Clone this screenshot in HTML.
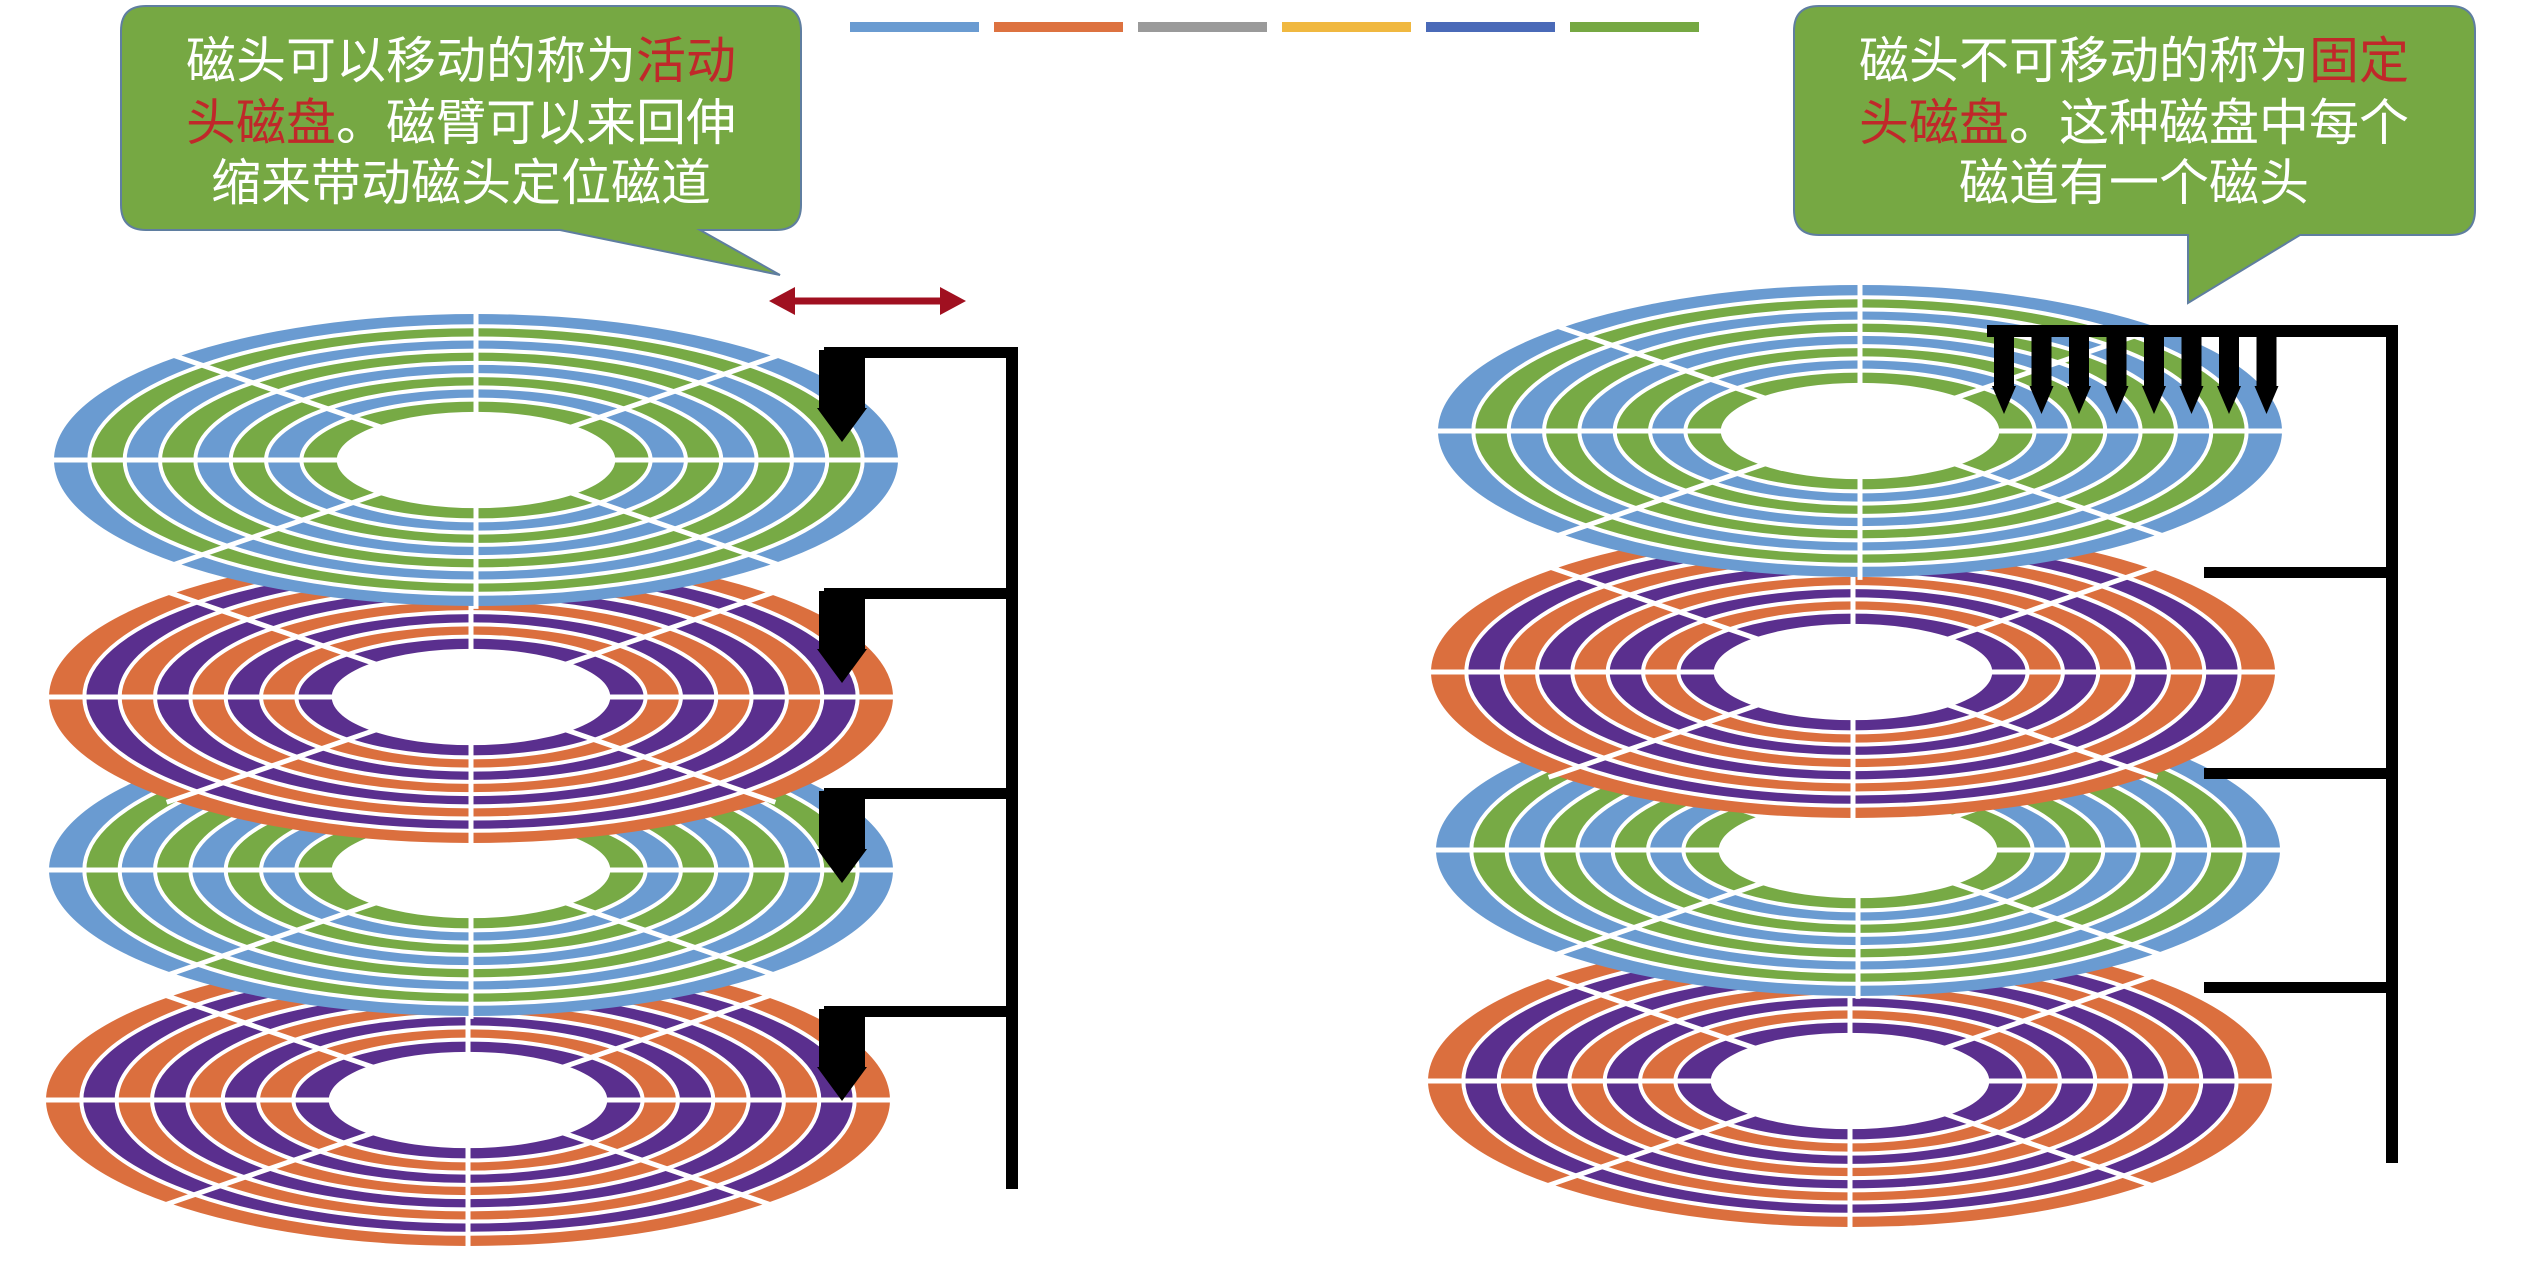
<!DOCTYPE html>
<html><head><meta charset="utf-8"><style>
html,body{margin:0;padding:0;background:#fff;}
svg{display:block;}
text{font-family:"Liberation Sans","Noto Sans CJK SC",sans-serif;}
</style></head><body>
<svg id="s" width="2523" height="1262" viewBox="0 0 2523 1262" xmlns="http://www.w3.org/2000/svg">
<g id="legend"></g>
<g id="disks"></g>
<g id="arms"></g>
<g>
<path d="M146,6 H776 Q801,6 801,31 V205 Q801,230 776,230 H700 L780,275 L560,230 H146 Q121,230 121,205 V31 Q121,6 146,6 Z" fill="#76a843" stroke="#5f7ea0" stroke-width="2"/>
<text x="461" y="78" font-size="50" fill="#fff" text-anchor="middle">磁头可以移动的称为<tspan fill="#c0282a">活动</tspan></text>
<text x="461" y="140" font-size="50" fill="#fff" text-anchor="middle"><tspan fill="#c0282a">头磁盘</tspan>。磁臂可以来回伸</text>
<text x="461" y="200" font-size="50" fill="#fff" text-anchor="middle">缩来带动磁头定位磁道</text>
</g>
<g>
<path d="M1819,6 H2450 Q2475,6 2475,31 V210 Q2475,235 2450,235 H2300 L2188,303 V235 H1819 Q1794,235 1794,210 V31 Q1794,6 1819,6 Z" fill="#76a843" stroke="#5f7ea0" stroke-width="2"/>
<text x="2134" y="78" font-size="50" fill="#fff" text-anchor="middle">磁头不可移动的称为<tspan fill="#c0282a">固定</tspan></text>
<text x="2134" y="140" font-size="50" fill="#fff" text-anchor="middle"><tspan fill="#c0282a">头磁盘</tspan>。这种磁盘中每个</text>
<text x="2134" y="200" font-size="50" fill="#fff" text-anchor="middle">磁道有一个磁头</text>
</g>
<g>
<line x1="790" y1="301" x2="945" y2="301" stroke="#a01020" stroke-width="7"/>
<polygon points="769,301 795,287 795,315" fill="#a01020"/>
<polygon points="966,301 940,287 940,315" fill="#a01020"/>
</g>
</svg>
<script>
const legendColors=["#6a9bd1","#dd7240","#9a9a9a","#f0b840","#4a6ab8","#76a843"];
const disksL=[[476,460,"b"],[471,697,"o"],[471,870,"b"],[468,1100,"o"]];
const disksR=[[1860,431,"b"],[1853,672,"o"],[1858,850,"b"],[1850,1081,"o"]];
const NS="http://www.w3.org/2000/svg";
function mk(t,a,p){const e=document.createElementNS(NS,t);for(const k in a)e.setAttribute(k,a[k]);p.appendChild(e);return e;}
const lg=document.getElementById('legend');
legendColors.forEach((c,i)=>{const r=mk('rect',{x:850+i*144,y:22,width:129,height:10,fill:c},lg);

});
const pal={b:["#6a9bd1","#77aa45"],o:["#db6f3e","#5a2f8e"]};
function disk(cx,cy,kind){
 const g=mk('g',{},document.getElementById('disks'));
 
 
 const rx=422,ry=146,hr=0.33,N=8;
 for(let i=0;i<N;i++){const f=1-(1-hr)*i/N;
  mk('ellipse',{cx,cy,rx:rx*f,ry:ry*f,fill:pal[kind][i%2],stroke:"#fff","stroke-width":i?4:0},g);}
 for(let k=0;k<8;k++){const a=k*Math.PI/4;
  mk('line',{x1:cx,y1:cy,x2:cx+Math.cos(a)*rx*1.02,y2:cy+Math.sin(a)*ry*1.02,stroke:"#fff","stroke-width":5},g);}
 mk('ellipse',{cx,cy,rx:rx*hr,ry:ry*hr,fill:"#fff"},g);
}
[...disksL].reverse().forEach(d=>disk(...d));
[...disksR].reverse().forEach(d=>disk(...d));
const ar=document.getElementById('arms');
function head(x,y,w,h,ah){const g=mk('g',{},ar);
 
 
 mk('rect',{x:x-w/2,y,width:w,height:h,fill:"#000"},g);
 mk('polygon',{points:`${x-w/2-2},${y+h} ${x+w/2+2},${y+h} ${x},${y+h+ah}`,fill:"#000"},g);}
mk('rect',{x:1006,y:347,width:12,height:842,fill:"#000"},ar);
[347,588,788,1006].forEach(y=>{mk('rect',{x:824,y:y,width:194,height:11,fill:"#000"},ar);head(842,y+3,46,58,34);});
mk('rect',{x:2386,y:328,width:12,height:835,fill:"#000"},ar);
mk('rect',{x:1987,y:325,width:411,height:12,fill:"#000"},ar);
[567,768,982].forEach(y=>mk('rect',{x:2204,y:y,width:194,height:11,fill:"#000"},ar));
for(let i=0;i<8;i++)head(2004+i*37.5,330,20,56,28);
</script>
</body></html>
